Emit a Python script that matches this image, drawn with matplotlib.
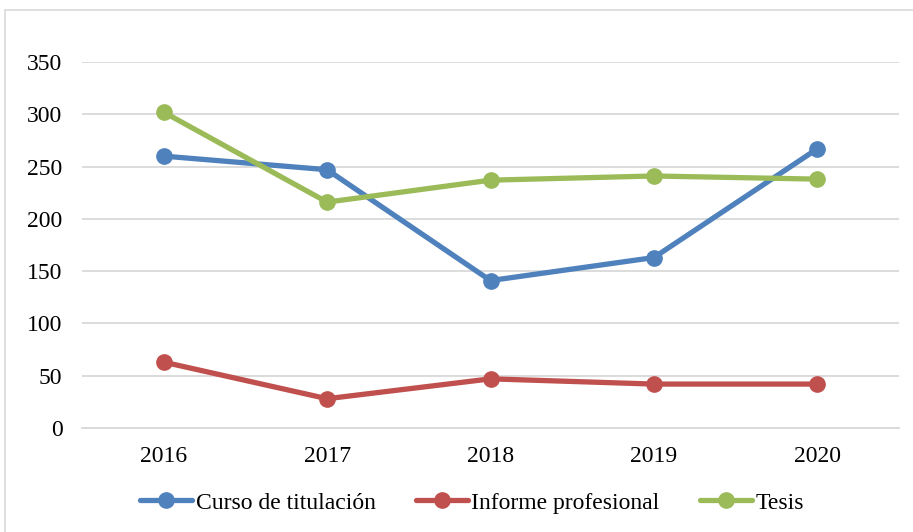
import matplotlib
matplotlib.use('Agg')
import matplotlib.pyplot as plt
from matplotlib.patches import Rectangle

years = ['2016', '2017', '2018', '2019', '2020']
curso = [260, 247, 141, 163, 267]
informe = [63, 28, 47, 42, 42]
tesis = [302, 216, 237, 241, 238]
yticks = [0, 50, 100, 150, 200, 250, 300, 350]

plt.rcParams['font.family'] = ['Liberation Serif', 'DejaVu Serif']

W, H = 913, 532
fig = plt.figure(figsize=(W / 100, H / 100), dpi=100)

# light grey chart border (right/bottom edges fall outside the image)
fig.patches.append(Rectangle((5 / W, -0.05), 1.1, 1 - 10 / H + 0.05,
                             transform=fig.transFigure, fill=False,
                             edgecolor='#D9D9D9', linewidth=1.2))

ax = fig.add_axes([82 / W, 1 - 428 / H, (899 - 82) / W, (428 - 62) / H])

x = list(range(len(years)))
series = [(curso, 'Curso de titulación', '#4F81BD'),
          (informe, 'Informe profesional', '#C0504D'),
          (tesis, 'Tesis', '#9BBB59')]
for vals, name, col in series:
    ax.plot(x, vals, color=col, lw=3.8, marker='o', ms=11,
            solid_capstyle='round', label=name, zorder=3)

ax.set_xlim(-0.5, len(years) - 0.5)
ax.set_ylim(0, 350)
ax.set_yticks(yticks)
ax.set_xticks(x)
ax.set_xticklabels(years)
ax.grid(axis='y', color='#D9D9D9', lw=1.3)
ax.set_axisbelow(True)
for s in ['top', 'right', 'left']:
    ax.spines[s].set_visible(False)
ax.spines['bottom'].set_color('#D9D9D9')
ax.spines['bottom'].set_linewidth(1.3)
ax.tick_params(length=0, labelsize=17, colors='black')
ax.tick_params(axis='y', pad=14)
ax.tick_params(axis='x', pad=13)

fig.legend(loc='center', bbox_to_anchor=(472 / W, 1 - 503 / H), ncol=3,
           frameon=False, fontsize=17, handlelength=2.2,
           handletextpad=0.15, columnspacing=1.7)

plt.savefig('out.png', dpi=100)
